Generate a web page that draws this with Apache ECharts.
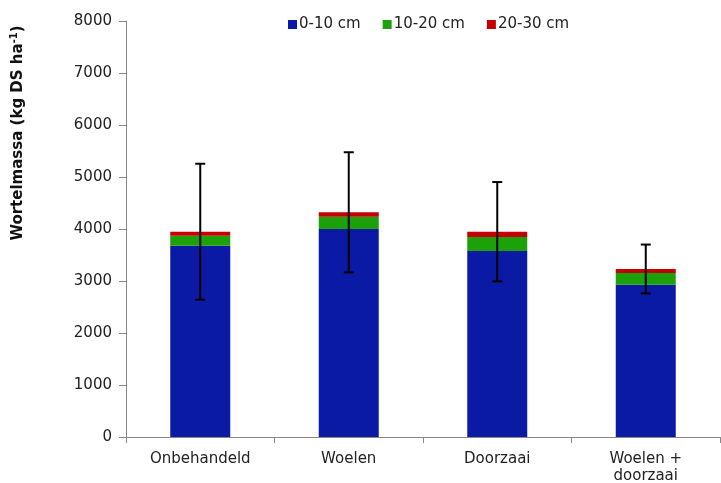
<!DOCTYPE html>
<html>
<head>
<meta charset="utf-8">
<script src="https://cdn.jsdelivr.net/npm/echarts@6/dist/echarts.min.js"></script>
<style>html,body{margin:0;padding:0;background:#fff}#c{width:721px;height:483px}</style>
</head>
<body>
<div id="c"></div>
<script>
const categories = ['Onbehandeld', 'Woelen', 'Doorzaai', 'Woelen +\ndoorzaai'];
const layer0_10 = [3680, 4000, 3575, 2930];
const layer10_20 = [190, 237, 272, 224];
const layer20_30 = [78, 84, 101, 77];
const errorHalf = [1307, 1155, 955, 470];
const seriesNames = ['0-10 cm', '10-20 cm', '20-30 cm'];
const yTicks = [0, 1000, 2000, 3000, 4000, 5000, 6000, 7000, 8000];

const totals = categories.map((c, i) => layer0_10[i] + layer10_20[i] + layer20_30[i]);
const errData = categories.map((c, i) => [i, totals[i] - errorHalf[i], totals[i] + errorHalf[i]]);

const FONT = '"DejaVu Sans", Verdana, sans-serif';
const chart = echarts.init(document.getElementById('c'));
chart.setOption({
  animation: false,
  backgroundColor: '#fff',
  grid: { left: 126, right: 1, top: 21, bottom: 46, containLabel: false, outerBoundsMode: 'none' },
  legend: {
    data: seriesNames,
    left: 283, top: 12,
    itemWidth: 9, itemHeight: 9, itemGap: 22,
    icon: 'rect',
    textStyle: { fontFamily: FONT, fontSize: 15, color: '#222', padding: [0, 0, 0, -3] }
  },
  xAxis: {
    type: 'category',
    data: categories,
    axisLine: { lineStyle: { color: '#888', width: 1 } },
    axisTick: { show: true, length: 6, lineStyle: { color: '#888' } },
    axisLabel: { fontFamily: FONT, fontSize: 15, color: '#222', margin: 14, lineHeight: 17 }
  },
  yAxis: {
    type: 'value',
    min: yTicks[0], max: yTicks[yTicks.length - 1], interval: 1000,
    splitLine: { show: false },
    axisLine: { show: true, lineStyle: { color: '#888', width: 1 } },
    axisTick: { show: true, length: 7, lineStyle: { color: '#888' } },
    axisLabel: { fontFamily: FONT, fontSize: 15, color: '#222', margin: 14, formatter: v => String(v) }
  },
  graphic: [{
    type: 'text',
    x: 18, y: 133,
    rotation: Math.PI / 2,
    style: {
      text: 'Wortelmassa (kg DS ha{sup|-1})',
      font: 'bold 15px "DejaVu Sans"',
      fill: '#111',
      align: 'center',
      verticalAlign: 'middle',
      rich: { sup: { fontSize: 10, fontWeight: 'bold', fontFamily: FONT, verticalAlign: 'top', padding: [0, 0, 7, 0], fill: '#111' } }
    }
  }],
  series: [
    { name: seriesNames[0], type: 'bar', stack: 's', barWidth: 60, data: layer0_10, itemStyle: { color: '#0B1AA5' } },
    { name: seriesNames[1], type: 'bar', stack: 's', barWidth: 60, data: layer10_20, itemStyle: { color: '#1CA10B' } },
    { name: seriesNames[2], type: 'bar', stack: 's', barWidth: 60, data: layer20_30, itemStyle: { color: '#C60000' } },
    {
      type: 'custom',
      name: 'err',
      data: errData,
      z: 10,
      renderItem: function (params, api) {
        const x = api.value(0);
        const lo = api.coord([x, api.value(1)]);
        const hi = api.coord([x, api.value(2)]);
        const cw = 5;
        const st = { stroke: '#000', lineWidth: 2 };
        return {
          type: 'group',
          children: [
            { type: 'line', shape: { x1: hi[0], y1: hi[1], x2: lo[0], y2: lo[1] }, style: st },
            { type: 'line', shape: { x1: hi[0] - cw, y1: hi[1], x2: hi[0] + cw, y2: hi[1] }, style: st },
            { type: 'line', shape: { x1: lo[0] - cw, y1: lo[1], x2: lo[0] + cw, y2: lo[1] }, style: st }
          ]
        };
      }
    }
  ]
});
</script>
</body>
</html>
